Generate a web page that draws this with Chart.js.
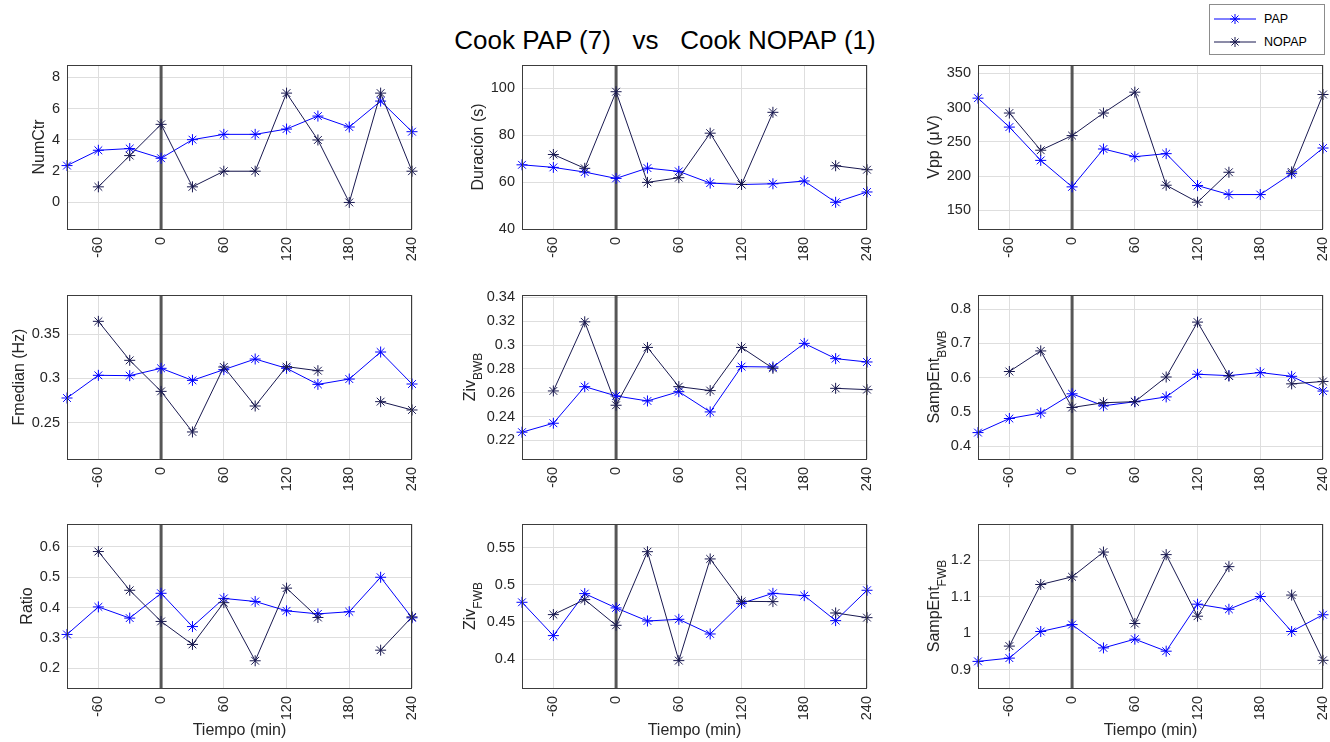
<!DOCTYPE html>
<html>
<head>
<meta charset="utf-8">
<script src="https://cdn.jsdelivr.net/npm/chart.js@4.4.1/dist/chart.umd.min.js"></script>
<style>
  body { margin: 0; background: #fff; width: 1330px; height: 742px; position: relative; overflow: hidden; font-family: "Liberation Sans", Arial, sans-serif; }
  .panel { position: absolute; }
  #titulo { position: absolute; left: 0; top: 25px; width: 1330px; text-align: center; font-size: 26px; line-height: 30px; white-space: pre; color: #000; }
  #leyenda { position: absolute; left: 1209px; top: 4px; width: 116px; height: 51px; border: 1px solid #8c8c8c; background: #fff; box-sizing: border-box; font-size: 12.5px; color: #000; }
  #leyenda .fila { position: absolute; left: 4px; height: 14px; display: flex; align-items: center; }
  #leyenda svg { margin-right: 8px; }
</style>
</head>
<body>
<div id="titulo">Cook PAP (7)   vs   Cook NOPAP (1)</div>
<div id="leyenda">
  <div class="fila" style="top:7px">
    <svg width="42" height="14"><line x1="0" y1="7" x2="42" y2="7" stroke="#0000ff" stroke-width="1"/><g stroke="#0000ff"><line x1="21" y1="2" x2="21" y2="12"/><line x1="16" y1="7" x2="26" y2="7"/><line x1="17.5" y1="3.5" x2="24.5" y2="10.5"/><line x1="24.5" y1="3.5" x2="17.5" y2="10.5"/></g></svg>PAP
  </div>
  <div class="fila" style="top:30px">
    <svg width="42" height="14"><line x1="0" y1="7" x2="42" y2="7" stroke="#191950" stroke-width="1"/><g stroke="#191950"><line x1="21" y1="2" x2="21" y2="12"/><line x1="16" y1="7" x2="26" y2="7"/><line x1="17.5" y1="3.5" x2="24.5" y2="10.5"/><line x1="24.5" y1="3.5" x2="17.5" y2="10.5"/></g></svg>NOPAP
  </div>
</div>

<script>
// Tiempos (min) de cada medida
const tiempo = [-90, -60, -30, 0, 30, 60, 90, 120, 150, 180, 210, 240];
const ticksTiempo = [-60, 0, 60, 120, 180, 240];

// Valores (null = sin dato)
const papNumCtr = [2.36, 3.34, 3.45, 2.83, 4.02, 4.36, 4.36, 4.70, 5.53, 4.83, 6.49, 4.53];
const nopapNumCtr = [null, 1, 3, 5, 1, 2, 2, 7, 4, 0, 7, 2];

const papDuracion = [67.4, 66.3, 64.3, 61.6, 66.0, 64.6, 59.6, 59.0, 59.3, 60.5, 51.4, 55.8];
const nopapDuracion = [null, 71.8, 65.9, 98.6, 59.9, 61.9, 80.9, 59.0, 89.8, null, 67.0, 65.3];

const papVpp = [313.7, 271.5, 223, 184.4, 239.6, 228.4, 232.8, 186.3, 173.2, 173.2, 203.7, 241];
const nopapVpp = [null, 292, 237.8, 259.1, 292, 322.4, 186.8, 162.1, 205.7, null, 206.2, 319];

const papFmedian = [0.2778, 0.3034, 0.303, 0.3113, 0.2977, 0.3098, 0.3218, 0.3113, 0.2932, 0.2992, 0.3297, 0.2936];
const nopapFmedian = [null, 0.3643, 0.3203, 0.2853, 0.2395, 0.3128, 0.2688, 0.3132, 0.3086, null, 0.2737, 0.2643];

const papZivBWB = [0.2269, 0.2344, 0.2651, 0.2573, 0.2531, 0.2609, 0.2439, 0.2819, 0.2816, 0.3014, 0.2886, 0.2858];
const nopapZivBWB = [null, 0.2615, 0.3195, 0.2495, 0.298, 0.2651, 0.2618, 0.298, 0.2805, null, 0.2637, 0.2626];

const papSampEntBWB = [0.440, 0.481, 0.497, 0.553, 0.518, 0.530, 0.544, 0.610, 0.606, 0.615, 0.604, 0.561];
const nopapSampEntBWB = [null, 0.618, 0.678, 0.513, 0.527, 0.530, 0.602, 0.762, 0.605, null, 0.582, 0.589];

const papRatio = [0.311, 0.402, 0.365, 0.447, 0.337, 0.430, 0.420, 0.389, 0.379, 0.386, 0.500, 0.366];
const nopapRatio = [null, 0.585, 0.457, 0.354, 0.278, 0.416, 0.224, 0.464, 0.367, null, 0.259, 0.369];

const papZivFWB = [0.4765, 0.4316, 0.4882, 0.4689, 0.4513, 0.4536, 0.4338, 0.4751, 0.4886, 0.4855, 0.4518, 0.4927];
const nopapZivFWB = [null, 0.4599, 0.4801, 0.4455, 0.5447, 0.3979, 0.5349, 0.4778, 0.4774, null, 0.4621, 0.4558];

const papSampEntFWB = [0.923, 0.932, 1.005, 1.024, 0.960, 0.984, 0.951, 1.080, 1.066, 1.101, 1.005, 1.051];
const nopapSampEntFWB = [null, 0.965, 1.134, 1.155, 1.223, 1.027, 1.216, 1.047, 1.183, null, 1.105, 0.926];

// Ticks del eje y de cada panel
const ticksNumCtr = [0, 2, 4, 6, 8];
const ticksDuracion = [40, 60, 80, 100];
const ticksVpp = [150, 200, 250, 300, 350];
const ticksFmedian = [0.25, 0.3, 0.35];
const ticksZivBWB = [0.22, 0.24, 0.26, 0.28, 0.3, 0.32, 0.34];
const ticksSampEntBWB = [0.4, 0.5, 0.6, 0.7, 0.8];
const ticksRatio = [0.2, 0.3, 0.4, 0.5, 0.6];
const ticksZivFWB = [0.4, 0.45, 0.5, 0.55];
const ticksSampEntFWB = [0.9, 1, 1.1, 1.2];

const paneles = [
  { label: 'NumCtr', sub: '', pap: papNumCtr, nopap: nopapNumCtr, ticks: ticksNumCtr, min: -1.7, max: 8.8 },
  { label: 'Duración (s)', sub: '', pap: papDuracion, nopap: nopapDuracion, ticks: ticksDuracion, min: 40, max: 110 },
  { label: 'Vpp (μV)', sub: '', pap: papVpp, nopap: nopapVpp, ticks: ticksVpp, min: 123, max: 362 },
  { label: 'Fmedian (Hz)', sub: '', pap: papFmedian, nopap: nopapFmedian, ticks: ticksFmedian, min: 0.209, max: 0.394 },
  { label: 'Ziv', sub: 'BWB', pap: papZivBWB, nopap: nopapZivBWB, ticks: ticksZivBWB, min: 0.2044, max: 0.342 },
  { label: 'SampEnt', sub: 'BWB', pap: papSampEntBWB, nopap: nopapSampEntBWB, ticks: ticksSampEntBWB, min: 0.363, max: 0.841 },
  { label: 'Ratio', sub: '', pap: papRatio, nopap: nopapRatio, ticks: ticksRatio, min: 0.134, max: 0.676 },
  { label: 'Ziv', sub: 'FWB', pap: papZivFWB, nopap: nopapZivFWB, ticks: ticksZivFWB, min: 0.361, max: 0.582 },
  { label: 'SampEnt', sub: 'FWB', pap: papSampEntFWB, nopap: nopapSampEntFWB, ticks: ticksSampEntFWB, min: 0.85, max: 1.30 }
];

// geometría de la rejilla 3x3
const izq = [67, 522, 978];
const arriba = [65, 295, 524];
const ancho = 345, alto = 164;
const padIzq = 67, padArriba = 12, padDer = 14;
const fuente = '"Liberation Sans", Arial, sans-serif';

const toXY = vals => tiempo.map((t, i) => ({ x: t, y: vals[i] }));
const fmt = v => String(+v.toFixed(4));

// línea vertical en t=0, marco, y títulos de ejes
const decoracion = {
  id: 'decoracion',
  beforeDatasetsDraw(chart) {
    const { ctx, chartArea } = chart;
    const x0 = chart.scales.x.getPixelForValue(0);
    ctx.save();
    ctx.strokeStyle = 'rgba(70,70,70,0.9)';
    ctx.lineWidth = 3;
    ctx.beginPath();
    ctx.moveTo(x0, chartArea.top);
    ctx.lineTo(x0, chartArea.bottom);
    ctx.stroke();
    ctx.restore();
  },
  afterDraw(chart) {
    const { ctx, chartArea } = chart;
    const p = chart.options.plugins.decoracion;
    ctx.save();
    ctx.strokeStyle = '#3c3c3c';
    ctx.lineWidth = 1;
    ctx.strokeRect(Math.round(chartArea.left) + 0.5, Math.round(chartArea.top) + 0.5,
      Math.round(chartArea.right - chartArea.left) - 1, Math.round(chartArea.bottom - chartArea.top));

    // ancho máximo de etiquetas del eje y
    ctx.font = '14.5px ' + fuente;
    let maxW = 0;
    chart.scales.y.ticks.forEach(t => { maxW = Math.max(maxW, ctx.measureText(fmt(t.value)).width); });
    const bordeEtiquetas = chartArea.left - 7 - maxW;
    const midY = (chartArea.top + chartArea.bottom) / 2;

    ctx.fillStyle = '#262626';
    ctx.textBaseline = 'middle';
    ctx.textAlign = 'left';
    if (p.sub) {
      ctx.font = '16px ' + fuente;
      const wm = ctx.measureText(p.label).width;
      ctx.font = '12px ' + fuente;
      const ws = ctx.measureText(p.sub).width;
      const inicio = -(wm + ws) / 2;
      ctx.save();
      ctx.translate(bordeEtiquetas - 16, midY);
      ctx.rotate(-Math.PI / 2);
      ctx.font = '16px ' + fuente;
      ctx.fillText(p.label, inicio, 0);
      ctx.font = '12px ' + fuente;
      ctx.fillText(p.sub, inicio + wm, 8);
      ctx.restore();
    } else {
      ctx.save();
      ctx.translate(bordeEtiquetas - 12, midY);
      ctx.rotate(-Math.PI / 2);
      ctx.font = '16px ' + fuente;
      ctx.textAlign = 'center';
      ctx.fillText(p.label, 0, 0);
      ctx.restore();
    }

    if (p.xTitle) {
      ctx.font = '16px ' + fuente;
      ctx.textAlign = 'center';
      ctx.fillText('Tiempo (min)', (chartArea.left + chartArea.right) / 2, chartArea.bottom + 43);
    }
    ctx.restore();
  }
};

paneles.forEach((p, i) => {
  const fila = Math.floor(i / 3), col = i % 3;
  const ultimaFila = fila === 2;
  const altoEjeX = ultimaFila ? 62 : 45;
  const div = document.createElement('div');
  div.className = 'panel';
  const w = padIzq + ancho + padDer;
  const h = padArriba + alto + altoEjeX;
  div.style.left = (izq[col] - padIzq) + 'px';
  div.style.top = (arriba[fila] - padArriba) + 'px';
  div.style.width = w + 'px';
  div.style.height = h + 'px';
  const canvas = document.createElement('canvas');
  canvas.width = w;
  canvas.height = h;
  div.appendChild(canvas);
  document.body.appendChild(div);

  new Chart(canvas.getContext('2d'), {
    type: 'line',
    data: {
      datasets: [
        {
          label: 'PAP',
          data: toXY(p.pap),
          borderColor: '#0000ff',
          backgroundColor: '#0000ff',
          borderWidth: 1,
          pointStyle: 'star',
          pointRadius: 5.5,
          pointBorderWidth: 1,
          pointBorderColor: '#0000ff',
          tension: 0,
          spanGaps: false,
          clip: false,
          order: 1
        },
        {
          label: 'NOPAP',
          data: toXY(p.nopap),
          borderColor: '#191950',
          backgroundColor: '#191950',
          borderWidth: 1,
          pointStyle: 'star',
          pointRadius: 5.5,
          pointBorderWidth: 1,
          pointBorderColor: '#191950',
          tension: 0,
          spanGaps: false,
          clip: false,
          order: 0
        }
      ]
    },
    options: {
      responsive: false,
      animation: false,
      devicePixelRatio: 1,
      layout: { padding: { left: 0, top: padArriba, right: padDer, bottom: 0 } },
      plugins: {
        legend: { display: false },
        tooltip: { enabled: false },
        decoracion: { label: p.label, sub: p.sub, xTitle: ultimaFila }
      },
      scales: {
        x: {
          type: 'linear',
          min: -90,
          max: 240,
          afterBuildTicks: s => { s.ticks = ticksTiempo.map(v => ({ value: v })); },
          afterFit: s => { s.height = altoEjeX; s.paddingLeft = 0; s.paddingRight = 0; },
          ticks: {
            autoSkip: false,
            minRotation: 90,
            maxRotation: 90,
            padding: 8,
            color: '#262626',
            font: { family: fuente, size: 14.5 },
            callback: v => fmt(v)
          },
          grid: { color: '#dedede', drawTicks: false },
          border: { display: false }
        },
        y: {
          type: 'linear',
          min: p.min,
          max: p.max,
          afterBuildTicks: s => { s.ticks = p.ticks.map(v => ({ value: v })); },
          afterFit: s => { s.width = padIzq; s.paddingTop = 0; s.paddingBottom = 0; },
          ticks: {
            padding: 7,
            color: '#262626',
            font: { family: fuente, size: 14.5 },
            callback: v => fmt(v)
          },
          grid: { color: '#dedede', drawTicks: false },
          border: { display: false }
        }
      }
    },
    plugins: [decoracion]
  });
});
</script>
</body>
</html>
